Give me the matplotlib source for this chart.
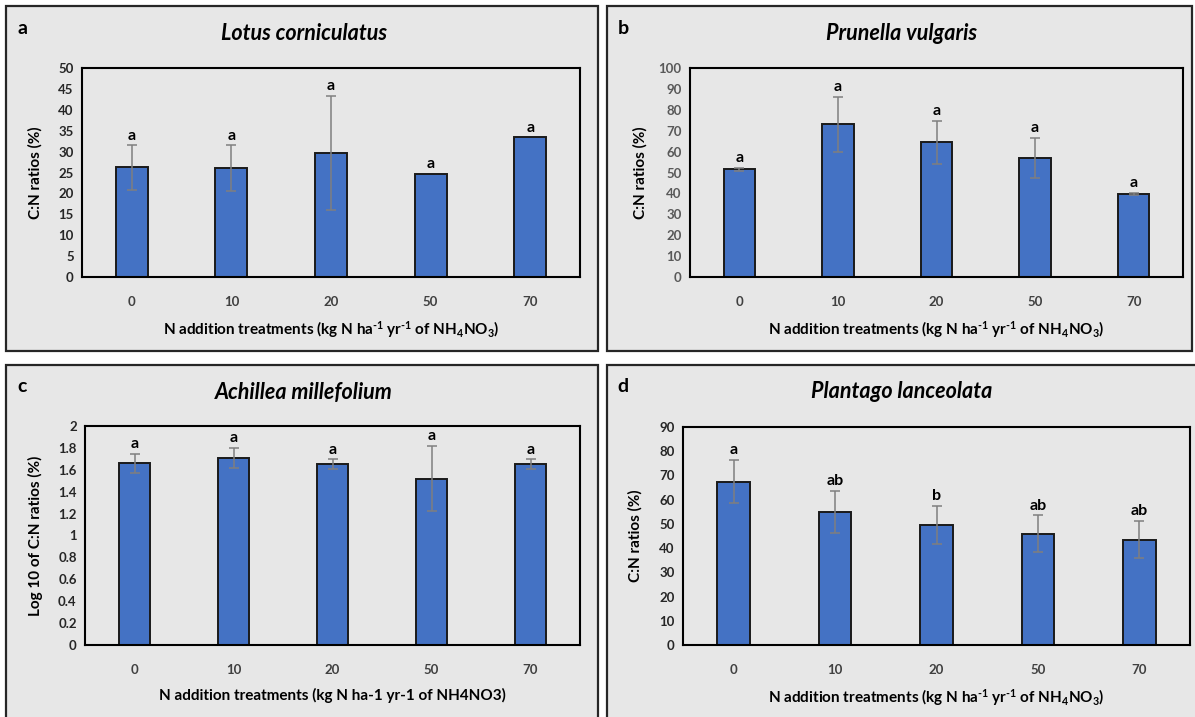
import numpy as np
import matplotlib
matplotlib.use("Agg")
import matplotlib.pyplot as plt
from matplotlib.patches import Rectangle

plt.rcParams['font.family'] = ['Lato', 'DejaVu Sans']
plt.rcParams['mathtext.fontset'] = 'custom'
plt.rcParams['mathtext.rm'] = 'Lato:bold'
plt.rcParams['mathtext.it'] = 'Lato:bold:italic'
plt.rcParams['mathtext.bf'] = 'Lato:bold'
plt.rcParams['mathtext.default'] = 'regular'

# Data
doses = ['0', '10', '20', '50', '70']

lotus_mean = [26.2, 26.0, 29.7, 24.6, 33.4]
lotus_err = [5.3, 5.5, 13.7, 0, 0]
lotus_letters = ['a', 'a', 'a', 'a', 'a']

prunella_mean = [51.5, 73.0, 64.5, 57.0, 39.7]
prunella_err = [0.8, 13.0, 10.3, 9.5, 0.5]
prunella_letters = ['a', 'a', 'a', 'a', 'a']

achillea_mean = [1.66, 1.71, 1.65, 1.52, 1.65]
achillea_err = [0.085, 0.09, 0.045, 0.30, 0.045]
achillea_letters = ['a', 'a', 'a', 'a', 'a']

plantago_mean = [67.5, 55.0, 49.5, 46.0, 43.5]
plantago_err = [9.0, 8.7, 8.0, 7.5, 7.7]
plantago_letters = ['a', 'ab', 'b', 'ab', 'ab']

W, H = 1195, 717
BG = '#e7e7e7'
BAR = '#4472c4'

fig = plt.figure(figsize=(W / 100, H / 100), dpi=100)
fig.patch.set_facecolor('white')


def px_box(left, top, right, bottom):
    return [left / W, 1 - bottom / H, (right - left) / W, (bottom - top) / H]


def panel_frame(left, top, right, bottom):
    fig.patches.append(Rectangle((left / W, 1 - bottom / H), (right - left) / W, (bottom - top) / H,
                                 transform=fig.transFigure, facecolor=BG, edgecolor='#262626',
                                 linewidth=1.6, zorder=-1))


def panel(frame, box, letter, title, mean, err, letters, ymax, ystep, ylabel, xlabel,
          ylab_x, tick_color='#404040', fmt=None):
    panel_frame(*frame)
    fl, ft, fr = frame[0], frame[1], frame[2]
    fig.text((fl + 16) / W, 1 - (ft + 22) / H, letter, fontsize=14, fontweight='bold',
             ha='center', va='center')
    cx = (fl + min(fr, 1192)) / 2 + 2
    fig.text(cx / W, 1 - (ft + 27) / H, title, fontsize=15.5, fontweight='bold',
             style='italic', ha='center', va='center')

    ax = fig.add_axes(px_box(*box))
    ax.set_facecolor(BG)
    x = np.arange(len(doses))
    ax.bar(x, mean, width=0.32, color=BAR, edgecolor='#1a1a1a', linewidth=1.4, zorder=2)
    err = np.array(err)
    show = err > 0
    ax.errorbar(x[show], np.array(mean)[show], yerr=err[show], fmt='none',
                ecolor='#7f7f7f', elinewidth=1.1, capsize=3.5, capthick=1.1, zorder=3)
    for xi, m, e, lab in zip(x, mean, err, letters):
        ax.annotate(lab, (xi, m + e), xytext=(0, 2), textcoords='offset points',
                    ha='center', va='bottom', fontsize=11.5, fontweight='bold', zorder=4)

    ax.set_xlim(-0.5, len(doses) - 0.5)
    ax.set_ylim(0, ymax)
    ticks = np.arange(0, ymax + ystep / 2, ystep)
    ax.set_yticks(ticks)
    if fmt is None:
        ax.set_yticklabels([f'{t:g}' for t in ticks])
    else:
        ax.set_yticklabels([fmt(t) for t in ticks])
    ax.set_xticks(x)
    ax.set_xticklabels(doses)
    ax.tick_params(length=0, labelsize=9.5, pad=14, axis='x', colors='#404040')
    ax.tick_params(length=0, labelsize=9.5, pad=6, axis='y', colors=tick_color)
    for lab in ax.get_xticklabels() + ax.get_yticklabels():
        lab.set_fontweight('bold')
    for s in ax.spines.values():
        s.set_linewidth(1.5)
        s.set_color('black')
    ax.set_xlabel(xlabel, fontsize=11, fontweight='bold', labelpad=8)
    ax.yaxis.set_label_coords((ylab_x - box[0]) / (box[2] - box[0]), 0.5)
    ax.set_ylabel(ylabel, fontsize=11, fontweight='bold', va='center')
    return ax


xlab_math = 'N addition treatments (kg N ha$^{\u20101}$ yr$^{\u20101}$ of NH$_4$NO$_3$)'
xlab_plain = 'N addition treatments (kg N ha-1 yr-1 of NH4NO3)'

panel((6, 6, 598, 351), (82, 68, 580, 277), 'a', 'Lotus corniculatus',
      lotus_mean, lotus_err, lotus_letters, 50, 5, 'C:N ratios (%)', xlab_math, 35,
      tick_color='#262626')

panel((607, 6, 1192, 351), (690, 68, 1183, 277), 'b', 'Prunella vulgaris',
      prunella_mean, prunella_err, prunella_letters, 100, 10, 'C:N ratios (%)', xlab_math, 640,
      tick_color='#595959')

panel((6, 365, 598, 730), (85, 426, 580, 645), 'c', 'Achillea millefolium',
      achillea_mean, achillea_err, achillea_letters, 2, 0.2, 'Log 10 of C:N ratios (%)',
      xlab_plain, 35, tick_color='#262626', fmt=lambda t: f'{round(t, 1):g}')

panel((607, 365, 1205, 730), (683, 427, 1190, 645), 'd', 'Plantago lanceolata',
      plantago_mean, plantago_err, plantago_letters, 90, 10, 'C:N ratios (%)', xlab_math, 635,
      tick_color='#262626')

fig.savefig('out.png', dpi=100, facecolor='white')
